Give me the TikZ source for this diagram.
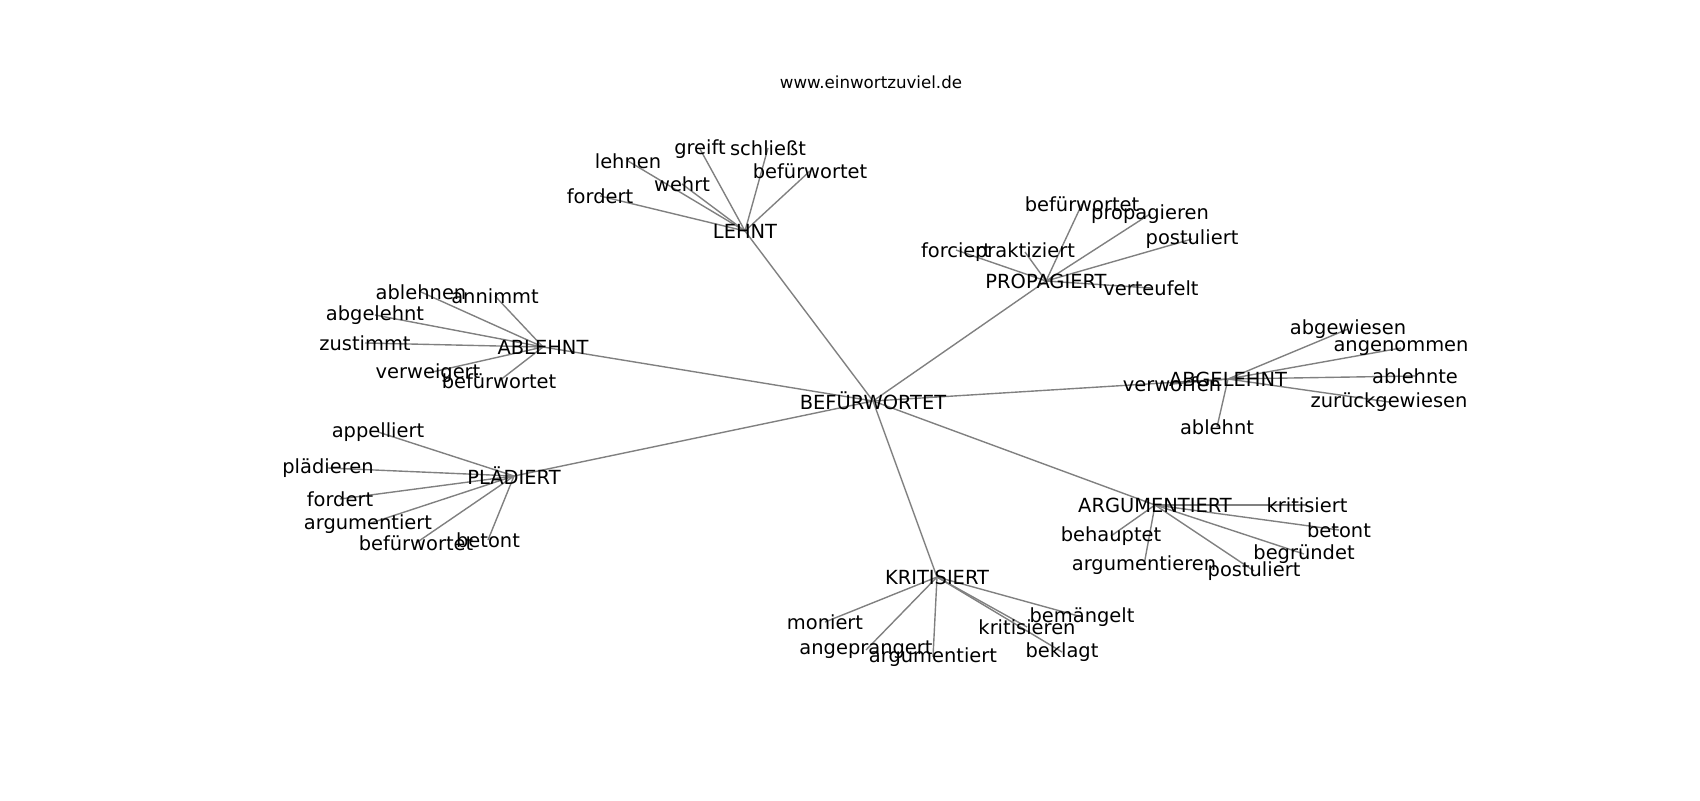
\documentclass[tikz,border=0pt]{standalone}
\usepackage{fontspec}
\setmainfont{DejaVu Sans}
\usetikzlibrary{backgrounds}
\begin{document}
\begin{tikzpicture}[x=0.72pt,y=-0.72pt,
  lbl/.style={inner sep=0pt,font=\fontsize{14pt}{16pt}\selectfont,text=black},
  ttl/.style={inner sep=0pt,font=\fontsize{12pt}{14pt}\selectfont,text=black},
  edge/.style={draw=gray,line width=1pt}]
\useasboundingbox (0,0) rectangle (1700,800);
\node[ttl] (title) at (871,82) {www.einwortzuviel.de};
% hubs
\node[lbl] (bef) at (873,401) {BEFÜRWORTET};
\node[lbl] (lehnt) at (745,231) {LEHNT};
\node[lbl] (prop) at (1046,281) {PROPAGIERT};
\node[lbl] (ableh) at (543,347) {ABLEHNT};
\node[lbl] (abgel) at (1228,379) {ABGELEHNT};
\node[lbl] (plaed) at (514,476) {PLÄDIERT};
\node[lbl] (argu) at (1155,505) {ARGUMENTIERT};
\node[lbl] (krit) at (937,577) {KRITISIERT};
% LEHNT leaves
\node[lbl] (l1) at (628,161) {lehnen};
\node[lbl] (l2) at (600,196) {fordert};
\node[lbl] (l3) at (682,184) {wehrt};
\node[lbl] (l4) at (700,149) {greift};
\node[lbl] (l5) at (768,148) {schließt};
\node[lbl] (l6) at (810,171) {befürwortet};
% PROPAGIERT leaves
\node[lbl] (p1) at (1082,204) {befürwortet};
\node[lbl] (p2) at (1150,214) {propagieren};
\node[lbl] (p3) at (1192,239) {postuliert};
\node[lbl] (p4) at (956,250) {forciert};
\node[lbl] (p5) at (1025,252) {praktiziert};
\node[lbl] (p6) at (1151,288) {verteufelt};
% ABLEHNT leaves
\node[lbl] (a1) at (421,292) {ablehnen};
\node[lbl] (a2) at (495,296) {annimmt};
\node[lbl] (a3) at (375,315) {abgelehnt};
\node[lbl] (a4) at (365,343) {zustimmt};
\node[lbl] (a5) at (428,373) {verweigert};
\node[lbl] (a6) at (499,381) {befürwortet};
% ABGELEHNT leaves
\node[lbl] (g1) at (1172,384) {verworfen};
\node[lbl] (g2) at (1348,329) {abgewiesen};
\node[lbl] (g3) at (1401,348) {angenommen};
\node[lbl] (g4) at (1415,376) {ablehnte};
\node[lbl] (g5) at (1389,402) {zurückgewiesen};
\node[lbl] (g6) at (1217,427) {ablehnt};
% PLAEDIERT leaves
\node[lbl] (d1) at (378,432) {appelliert};
\node[lbl] (d2) at (328,468) {plädieren};
\node[lbl] (d3) at (340,499) {fordert};
\node[lbl] (d4) at (368,524) {argumentiert};
\node[lbl] (d5) at (416,543) {befürwortet};
\node[lbl] (d6) at (488,540) {betont};
% ARGUMENTIERT leaves
\node[lbl] (r1) at (1307,505) {kritisiert};
\node[lbl] (r2) at (1339,530) {betont};
\node[lbl] (r3) at (1304,554) {begründet};
\node[lbl] (r4) at (1254,571) {postuliert};
\node[lbl] (r5) at (1111,536) {behauptet};
\node[lbl] (r6) at (1144,565) {argumentieren};
% KRITISIERT leaves
\node[lbl] (k1) at (825,622) {moniert};
\node[lbl] (k2) at (866,650) {angeprangert};
\node[lbl] (k3) at (933,657) {argumentiert};
\node[lbl] (k4) at (1027,627) {kritisieren};
\node[lbl] (k5) at (1082,617) {bemängelt};
\node[lbl] (k6) at (1062,652) {beklagt};
% background and edges behind labels
\begin{pgfonlayer}{background}
\fill[white] (0,0) rectangle (1700,800);
\foreach \h in {lehnt,prop,ableh,abgel,plaed,argu,krit}
  \draw[edge] (bef.center) -- (\h.center);
\foreach \n in {1,...,6} {
  \draw[edge] (lehnt.center) -- (l\n.center);
  \draw[edge] (prop.center) -- (p\n.center);
  \draw[edge] (ableh.center) -- (a\n.center);
  \draw[edge] (abgel.center) -- (g\n.center);
  \draw[edge] (plaed.center) -- (d\n.center);
  \draw[edge] (argu.center) -- (r\n.center);
  \draw[edge] (krit.center) -- (k\n.center);
}
\end{pgfonlayer}
\end{tikzpicture}
\end{document}
